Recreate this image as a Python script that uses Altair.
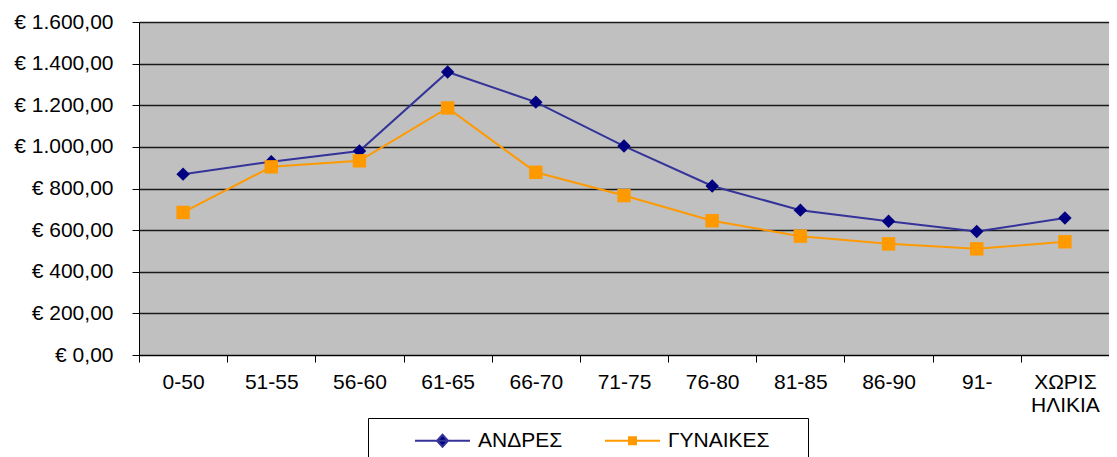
import altair as alt
import pandas as pd

categories = ["0-50", "51-55", "56-60", "61-65", "66-70", "71-75",
              "76-80", "81-85", "86-90", "91-", "ΧΩΡΙΣ ΗΛΙΚΙΑ"]
andres = [869, 929, 980, 1360, 1215, 1004, 812, 696, 643, 593, 658]
gynaikes = [685, 904, 933, 1187, 878, 766, 645, 571, 534, 510, 544]
series = ["ΑΝΔΡΕΣ", "ΓΥΝΑΙΚΕΣ"]
line_colors = ["#333399", "#FF9900"]
marker_colors = ["#000080", "#FF9900"]
marker_shapes = ["diamond", "square"]
legend_shapes = ["M-5.5,0L5.5,0M0,-1.2L1.1,0L0,1.2L-1.1,0Z",
                 "M-5.5,0L5.5,0M-0.7,-0.7L0.7,-0.7L0.7,0.7L-0.7,0.7Z"]
y_ticks = [0, 200, 400, 600, 800, 1000, 1200, 1400, 1600]

rows = []
for s, vals in zip(series, [andres, gynaikes]):
    for c, v in zip(categories, vals):
        rows.append({"cat": c, "series": s, "value": v})
df = pd.DataFrame(rows)

FONT = "Liberation Sans"

x_enc = alt.X(
    "cat:N", sort=categories, bandPosition=0.5,
    scale=alt.Scale(type="band", paddingInner=0, paddingOuter=0),
    axis=alt.Axis(
        title=None, tickBand="extent", labelAngle=0, domainColor="black",
        tickColor="black", tickSize=7, labelPadding=9, labelFontSize=21,
        labelFont=FONT, labelColor="black", labelLineHeight=23,
        labelExpr="split(datum.label, ' ')", grid=False,
    ),
)
y_enc = alt.Y(
    "value:Q",
    scale=alt.Scale(domain=[0, 1600], nice=False),
    axis=alt.Axis(
        title=None, values=y_ticks, domainColor="black", tickColor="black",
        tickSize=7, labelPadding=19, labelFontSize=21, labelFont=FONT,
        labelColor="black", gridColor="#1a1a1a", gridWidth=1.5,
        labelExpr="'€ ' + replace(replace(replace(format(datum.value, ',.2f'), ',', '#'), '.', ','), '#', '.')",
    ),
)

legend = alt.Legend(
    title=".", titleOrient="right", titleOpacity=0, titlePadding=20,
    titleFontSize=21, titleFont=FONT,
    orient="none", direction="horizontal", legendX=229, legendY=396,
    strokeColor="black", fillColor="white", padding=12, labelFontSize=21,
    labelFont=FONT, labelColor="black", symbolSize=100, symbolOffset=52,
    labelOffset=25, columnPadding=7, symbolStrokeWidth=2, symbolOpacity=1,
)

lines = alt.Chart(df).mark_line(strokeWidth=2).encode(
    x=x_enc, y=y_enc,
    color=alt.Color("series:N", scale=alt.Scale(domain=series, range=line_colors), legend=None),
)

points = alt.Chart(df).mark_point(filled=True, opacity=1, size=180).encode(
    x=x_enc, y=y_enc,
    fill=alt.Fill("series:N", scale=alt.Scale(domain=series, range=marker_colors), legend=None),
    shape=alt.Shape("series:N", scale=alt.Scale(domain=series, range=marker_shapes), legend=None),
)

legend_layer = alt.Chart(df).transform_filter("datum.value < 0").mark_point(
    filled=True, opacity=1, size=100, strokeWidth=2
).encode(
    x=x_enc, y=y_enc,
    fill=alt.Fill("series:N", scale=alt.Scale(domain=series, range=marker_colors), legend=legend),
    stroke=alt.Stroke("series:N", scale=alt.Scale(domain=series, range=line_colors), legend=legend),
    shape=alt.Shape("series:N", scale=alt.Scale(domain=series, range=legend_shapes), legend=legend),
)

chart = alt.layer(lines, points, legend_layer).resolve_scale(
    fill="independent", shape="independent", stroke="independent", color="independent"
).properties(
    width=970, height=333,
    autosize=alt.AutoSizeParams(type="none"),
    padding={"left": 131, "top": 14, "right": 0, "bottom": 102},
    background="white",
).configure_view(fill="#C0C0C0", stroke=None)

chart.save("out.html", embed_options={"renderer": "svg", "actions": False})
